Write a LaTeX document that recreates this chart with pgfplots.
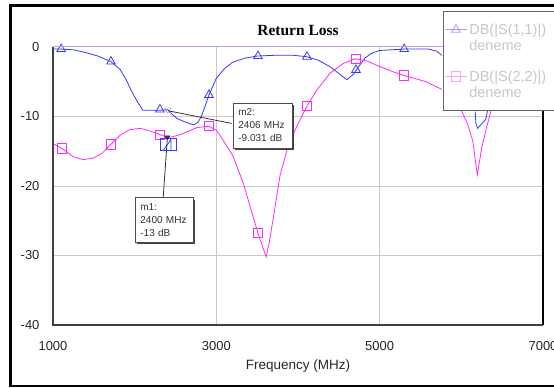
\documentclass[border=0pt]{standalone}
\usepackage{fontspec}
\setmainfont{Liberation Sans}
\newfontfamily\titlefont{Liberation Serif}
\usepackage{pgfplots}
\pgfplotsset{compat=1.18}
\usetikzlibrary{shadows,arrows.meta}

\definecolor{sA}{RGB}{55,55,255}
\definecolor{sB}{RGB}{255,40,255}
\definecolor{sAl}{RGB}{160,160,255}
\definecolor{sBl}{RGB}{255,160,255}
\definecolor{gridc}{RGB}{200,200,200}
\definecolor{topc}{RGB}{170,170,235}

\begin{document}
\begin{tikzpicture}[x=1pt,y=1pt]
\useasboundingbox (0,0) rectangle (554,388);
\fill[white] (0,0) rectangle (554,388);
\begin{axis}[
 at={(53pt,63pt)}, anchor=south west,
 scale only axis, width=490pt, height=278pt,
 xmin=1000, xmax=7000, ymin=-40, ymax=0,
 xtick={3000,5000}, ytick={-10,-20,-30},
 extra x ticks={1000,7000}, extra y ticks={0,-40},
 extra tick style={grid=none},
 grid=major, major grid style={gridc, line width=0.8pt},
 major tick length=0pt,
 axis line style={draw=none},
 ticklabel style={font=\fontsize{13}{15}\selectfont, text=black!85},
 /pgf/number format/assume math mode=true,
 /pgf/number format/1000 sep={},
 xticklabel style={yshift=-12.4pt},
 yticklabel style={xshift=-10pt},
 xlabel={Frequency (MHz)},
 xlabel style={at={(axis description cs:0.5,0)}, anchor=center, yshift=-41pt, font=\fontsize{13.5}{15}\selectfont, text=black!85},
 title={Return Loss},
 title style={at={(axis description cs:0.5,1)}, anchor=center, yshift=10pt, font=\titlefont\bfseries\fontsize{15.5}{17}\selectfont},
 clip mode=individual,
 legend cell align=left,
 legend style={
  at={(0.796,1.13)}, anchor=north west,
  draw=black!60, line width=1pt, fill=white,
  font=\fontsize{14.5}{16}\selectfont, text=black!22,
  nodes={text depth=},
  cells={anchor=west, align=left, text width=118pt},
  inner xsep=1pt, inner ysep=11pt,
  row sep=16pt,
 },
 legend image code/.code={
  \draw[mark repeat=2,mark phase=2,#1] plot coordinates {(0pt,8pt) (11pt,8pt) (22pt,8pt)};
 },
]
% S11 (the part hidden by the legend is left out)
\addplot[sA, line width=0.8pt, forget plot] coordinates {
(1000,-0.3) (1100,-0.3) (1250,-0.4) (1400,-0.8) (1550,-1.3) (1710,-2.1)
(1820,-3.2) (1900,-4.8) (1960,-6.3) (2030,-7.8) (2100,-9.1) (2200,-9.1)
(2300,-9.1) (2406,-9.031) (2460,-9.7) (2520,-10.3) (2620,-10.8) (2720,-11.2)
(2780,-10.8) (2830,-9.6) (2910,-6.9) (3000,-4.5) (3100,-3.1) (3200,-2.2)
(3350,-1.6) (3500,-1.3) (3700,-1.2) (3950,-1.2) (4110,-1.4) (4250,-1.9)
(4400,-2.9) (4520,-4.0) (4600,-4.7) (4680,-3.9) (4750,-2.7) (4820,-1.6)
(4900,-0.9) (5000,-0.5) (5300,-0.3) (5600,-0.3) (5700,-0.6) (5760,-1.2)
};
\addplot[sA, line width=0.8pt, forget plot] coordinates {
(6170,-9.3) (6178,-11.0) (6200,-11.7) (6300,-10.4) (6320,-9.2)
};
\addplot[sA, only marks, mark=triangle, mark size=5pt, line width=0.8pt, forget plot] coordinates {
(1100,-0.3) (1710,-2.1) (2310,-9.0) (2910,-6.9) (3510,-1.3) (4110,-1.4)
(4710,-3.3) (5300,-0.3)
};
% S22
\addplot[sB, line width=0.8pt, forget plot] coordinates {
(1000,-13.9) (1110,-14.6) (1250,-15.8) (1370,-16.2) (1490,-16.0) (1600,-15.3)
(1710,-14.0) (1820,-12.7) (1940,-11.9) (2070,-11.7) (2190,-12.1) (2310,-12.6)
(2400,-13.0) (2470,-12.9) (2560,-12.6) (2640,-12.2) (2760,-11.6) (2910,-11.4)
(3000,-12.0) (3050,-12.8) (3200,-15.6) (3330,-19.6) (3450,-24.4) (3510,-26.8)
(3610,-30.2) (3650,-28.0) (3700,-24.4) (3780,-18.5) (3880,-14.2) (3970,-11.8)
(4110,-8.5) (4230,-6.2) (4390,-3.8) (4550,-2.4) (4700,-1.7) (4840,-2.0)
(5000,-2.8) (5150,-3.5) (5300,-4.1) (5570,-5.0) (5760,-6.1)
};
\addplot[sB, line width=0.8pt, forget plot] coordinates {
(6000,-9.1) (6080,-11.2) (6140,-13.5) (6195,-18.4) (6250,-14.5) (6300,-12.0)
(6350,-9.8) (6360,-9.1)
};
\addplot[sB, only marks, mark=square, mark size=4.6pt, line width=0.8pt, forget plot] coordinates {
(1110,-14.6) (1710,-14.0) (2310,-12.6) (2910,-11.4) (3510,-26.8) (4110,-8.5)
(4710,-1.7) (5300,-4.1)
};
% marker decorations
\addplot[sA, only marks, mark=square, mark size=6pt, mark options={xscale=1.4}, line width=1pt, forget plot] coordinates {(2414,-14.0)};
\addplot[sA, line width=0.8pt, forget plot] coordinates {(2350,-14.9) (2445,-13.3) (2445,-14.9)};
\addplot[gray, only marks, mark=triangle, mark size=3.5pt, mark options={rotate=180}, forget plot] coordinates {(2406,-9.031)};
\addplot[black!80, only marks, mark=triangle*, mark size=3pt, mark options={rotate=180}, forget plot] coordinates {(2400,-13)};
% frame of plot area
\draw[black!75, line width=1.2pt] (rel axis cs:0,1) -- (rel axis cs:0,0) -- (rel axis cs:1,0);
\draw[black, line width=1.3pt] (rel axis cs:1,0) -- (rel axis cs:1,0.7725);
\draw[topc, line width=1pt] (rel axis cs:0,1) -- (rel axis cs:0.795,1);
% annotation lines and boxes
\draw[black!80, line width=0.8pt] (axis cs:3188,-11.0) -- (axis cs:2420,-9.2);
\draw[black!80, line width=0.8pt] (axis cs:2350,-21.55) -- (axis cs:2398,-13.5);
\node[draw=black!70, line width=0.8pt, fill=white,
  drop shadow={shadow xshift=2pt, shadow yshift=-2pt, fill=black!75, opacity=1},
  anchor=north west, text width=49pt, inner xsep=5pt, minimum height=45pt,
  align=left, font=\fontsize{10}{13}\selectfont, text=black!80]
  at (axis cs:3204,-8.0) {m2:\\2406 MHz\\-9.031 dB};
\node[draw=black!70, line width=0.8pt, fill=white,
  drop shadow={shadow xshift=2pt, shadow yshift=-2pt, fill=black!75, opacity=1},
  anchor=north west, text width=48pt, inner xsep=5pt, minimum height=44.5pt,
  align=left, font=\fontsize{10}{13}\selectfont, text=black!80]
  at (axis cs:2004,-21.6) {m1:\\2400 MHz\\-13 dB};
% legend
\addlegendimage{sAl, line width=0.8pt, mark=triangle, mark size=5pt}
\addlegendentry{DB(|S(1,1)|)\\deneme}
\addlegendimage{sBl, line width=0.8pt, mark=square, mark size=4.6pt}
\addlegendentry{DB(|S(2,2)|)\\deneme}
\end{axis}
\draw[black, line width=2.2pt] (10.5,2) rectangle (640,382.5);
\end{tikzpicture}
\end{document}
